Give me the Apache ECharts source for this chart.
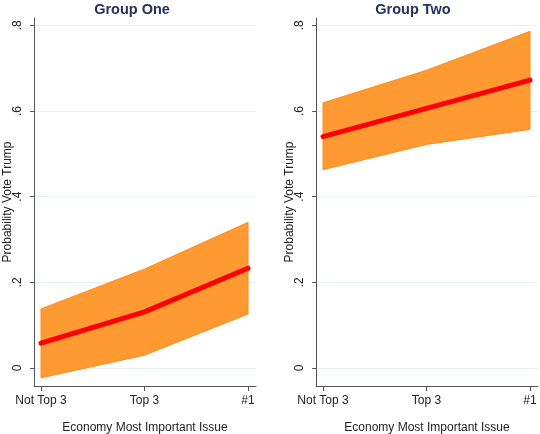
<!DOCTYPE html>
<html>
<head>
<meta charset="utf-8">
<script src="https://cdn.jsdelivr.net/npm/echarts@6/dist/echarts.min.js"></script>
<style>html,body{margin:0;padding:0;background:#fff}#c{width:540px;height:434px}</style>
</head>
<body>
<div id="c"></div>
<script>
const categories = ['Not Top 3', 'Top 3', '#1'];
const yTicks = [0, 0.2, 0.4, 0.6, 0.8];
const yTickLabels = ['0', '.2', '.4', '.6', '.8'];
const panelTitles = ['Group One', 'Group Two'];
const g1Est   = [0.058, 0.131, 0.233];
const g1Lower = [-0.023, 0.030, 0.126];
const g1Upper = [0.138, 0.231, 0.340];
const g2Est   = [0.540, 0.606, 0.672];
const g2Lower = [0.463, 0.522, 0.557];
const g2Upper = [0.619, 0.695, 0.786];

const font = 'Liberation Sans, Arial, sans-serif';
const grids = [
  {left: 34, top: 18, width: 222, height: 368, containLabel: false, outerBoundsMode: 'none'},
  {left: 316, top: 18, width: 222, height: 368, containLabel: false, outerBoundsMode: 'none'}
];
const idx = categories.map((c, i) => i);

function xAxis(gi) {
  return {
    gridIndex: gi, type: 'value', min: -0.068, max: 2.077,
    name: 'Economy Most Important Issue', nameLocation: 'middle', nameGap: 36, nameMoveOverlap: false,
    nameTextStyle: {color: '#222', fontSize: 12, fontFamily: font},
    axisLine: {show: true, onZero: false, lineStyle: {color: '#555', width: 1}},
    axisTick: {show: true, customValues: idx, length: 5, lineStyle: {color: '#555'}},
    axisLabel: {customValues: idx, formatter: v => categories[Math.round(v)], color: '#222', fontSize: 12, fontFamily: font, margin: 9},
    splitLine: {show: false}
  };
}
function yAxis(gi) {
  return {
    gridIndex: gi, type: 'value', min: -0.042, max: 0.817,
    name: 'Probability Vote Trump', nameLocation: 'middle', nameGap: 20, nameRotate: 90, nameMoveOverlap: false,
    nameTextStyle: {color: '#222', fontSize: 12, fontFamily: font},
    axisLine: {show: true, onZero: false, lineStyle: {color: '#555', width: 1}},
    axisTick: {show: true, customValues: yTicks, length: 4, lineStyle: {color: '#555'}},
    axisLabel: {customValues: yTicks, rotate: 90, formatter: v => yTickLabels[yTicks.findIndex(t => Math.abs(t - v) < 1e-6)], color: '#222', fontSize: 12, fontFamily: font, margin: 10},
    splitLine: {show: true, lineStyle: {color: '#e6f0f0', width: 1}}
  };
}
function bandSeries(gi, lower, upper, est) {
  return [
    {type: 'custom', xAxisIndex: gi, yAxisIndex: gi, silent: true, z: 2,
     data: [[0, lower[0]]],
     renderItem: function (params, api) {
       const pts = [];
       idx.forEach(i => pts.push(api.coord([i, upper[i]])));
       idx.slice().reverse().forEach(i => pts.push(api.coord([i, lower[i]])));
       return {type: 'polygon', shape: {points: pts},
               style: {fill: '#FF9A33', stroke: '#FF8C1A', lineWidth: 1}};
     }},
    {type: 'line', xAxisIndex: gi, yAxisIndex: gi, symbol: 'none',
     data: idx.map(i => [i, est[i]]), lineStyle: {color: '#FF0000', width: 5, cap: 'round', join: 'round'}, z: 3}
  ];
}

const chart = echarts.init(document.getElementById('c'), null, {renderer: 'canvas'});
chart.setOption({
  animation: false,
  backgroundColor: '#fff',
  title: [
    {text: panelTitles[0], left: 127, top: -3, textAlign: 'center', textStyle: {color: '#24325E', fontSize: 14.5, fontWeight: 'bold', fontFamily: font}},
    {text: panelTitles[1], left: 408, top: -3, textAlign: 'center', textStyle: {color: '#24325E', fontSize: 14.5, fontWeight: 'bold', fontFamily: font}}
  ],
  grid: grids,
  xAxis: [xAxis(0), xAxis(1)],
  yAxis: [yAxis(0), yAxis(1)],
  series: [...bandSeries(0, g1Lower, g1Upper, g1Est), ...bandSeries(1, g2Lower, g2Upper, g2Est)]
});
</script>
</body>
</html>
